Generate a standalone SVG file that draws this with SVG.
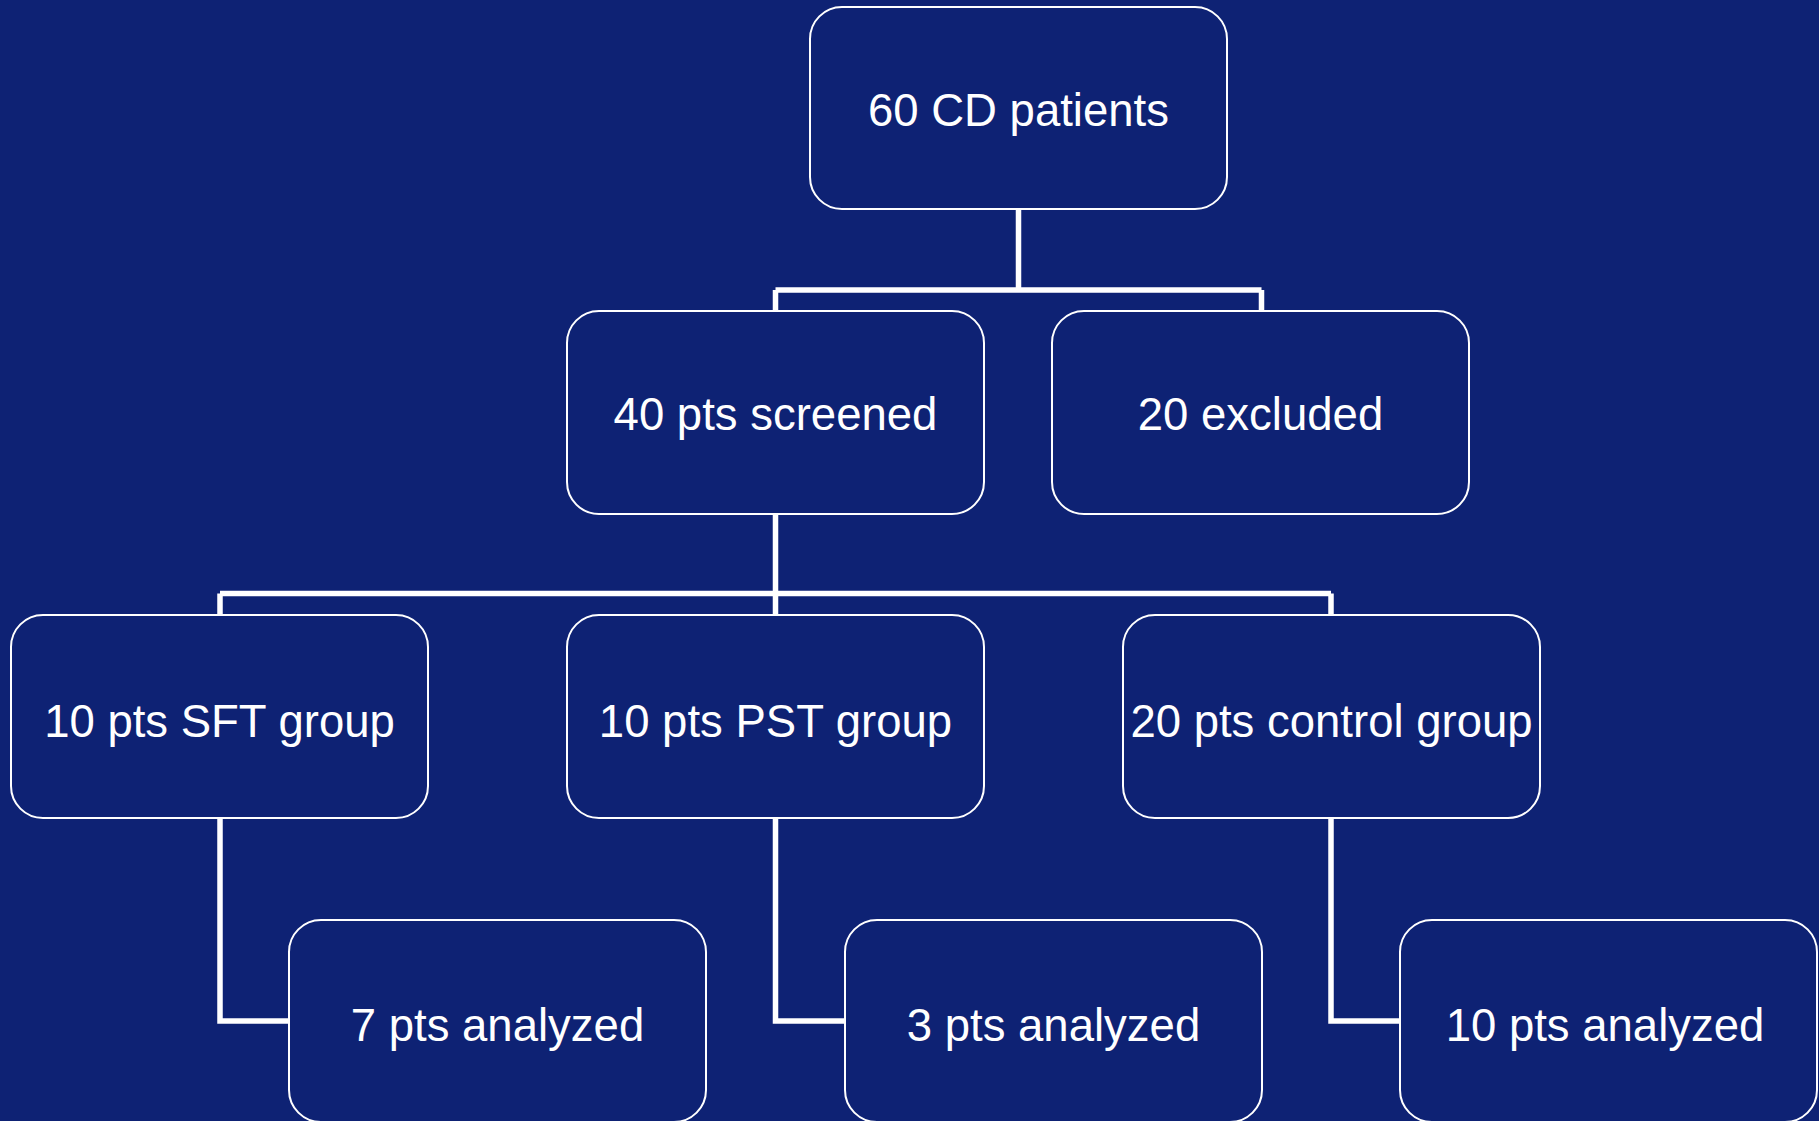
<svg xmlns="http://www.w3.org/2000/svg" width="1819" height="1121" viewBox="0 0 1819 1121">
<style>
.bg{fill:#0e2274}
.box{fill:#0e2274;stroke:#ffffff;stroke-width:2}
.lbl{fill:#ffffff;font-family:"Liberation Sans",Arial,sans-serif;font-size:45.5px;text-anchor:middle}
.conn{fill:none;stroke:#ffffff;stroke-width:5.5;stroke-linejoin:miter}
</style>
<rect class="bg" x="0" y="0" width="1819" height="1121"/>
<g id="connectors">
<path class="conn" d="M1018.5 209 V290 M775.5 290 H1261.5 M775.5 290 V311 M1261.5 290 V311"/>
<path class="conn" d="M775.5 514 V593.5 M220 593.5 H1331 M220 593.5 V615 M775.5 593.5 V615 M1331 593.5 V615"/>
<path class="conn" d="M220 818 V1021 H289"/>
<path class="conn" d="M775.5 818 V1021 H845"/>
<path class="conn" d="M1331 818 V1021 H1400"/>
</g>
<g id="n60">
<rect class="box" x="810" y="7" width="417" height="202" rx="32"/>
<text class="lbl" x="1018.5" y="126">60 CD patients</text>
</g>
<g id="n40">
<rect class="box" x="567" y="311" width="417" height="203" rx="32"/>
<text class="lbl" x="775.5" y="430">40 pts screened</text>
</g>
<g id="nexcl">
<rect class="box" x="1052" y="311" width="417" height="203" rx="32"/>
<text class="lbl" x="1260.5" y="430">20 excluded</text>
</g>
<g id="nsft">
<rect class="box" x="11" y="615" width="417" height="203" rx="32"/>
<text class="lbl" x="219.5" y="737">10 pts SFT group</text>
</g>
<g id="npst">
<rect class="box" x="567" y="615" width="417" height="203" rx="32"/>
<text class="lbl" x="775.5" y="737">10 pts PST group</text>
</g>
<g id="nctrl">
<rect class="box" x="1123" y="615" width="417" height="203" rx="32"/>
<text class="lbl" x="1331.5" y="737">20 pts control group</text>
</g>
<g id="na7">
<rect class="box" x="289" y="920" width="417" height="202" rx="32"/>
<text class="lbl" x="497.5" y="1041">7 pts analyzed</text>
</g>
<g id="na3">
<rect class="box" x="845" y="920" width="417" height="202" rx="32"/>
<text class="lbl" x="1053.5" y="1041">3 pts analyzed</text>
</g>
<g id="na10">
<rect class="box" x="1400" y="920" width="417" height="202" rx="32"/>
<text class="lbl" x="1605" y="1041">10 pts analyzed</text>
</g>
</svg>
